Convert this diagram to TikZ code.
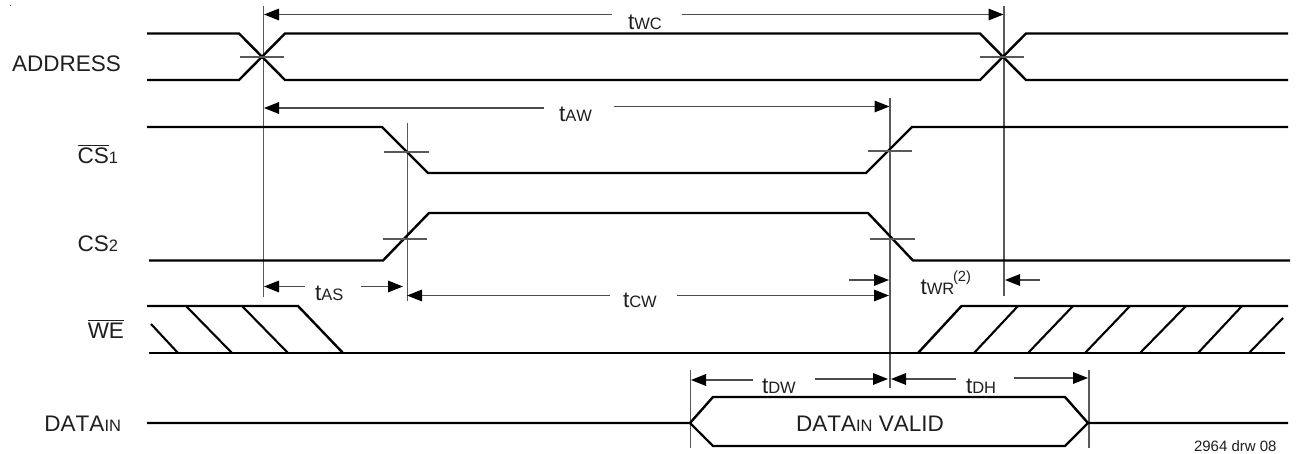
\documentclass[tikz,border=0pt]{standalone}
\usepackage{fontspec}
\setmainfont[Kerning=Off]{Liberation Sans}
\usetikzlibrary{arrows.meta}
\newcommand{\bigtxt}{\fontsize{22.5}{24}\selectfont}
\newcommand{\smtxt}[1]{{\fontsize{16.5}{18}\selectfont #1}}
\newcommand{\lineoverbar}[1]{\vbox{\hrule height 1.4pt \kern 1.6pt \hbox{#1}}}
\tikzset{
  x=1pt,y=-1pt,
  signal/.style={line width=2.4pt,black,line join=miter},
  hatchline/.style={line width=2.1pt,black},
  guide/.style={line width=1.8pt,black!65},
  dim/.style={line width=1.5pt,black!70},
  dimarrow/.style={dim,-{Triangle[length=15pt,width=11.5pt,black]}},
  lab/.style={inner sep=0pt,outer sep=0pt,font=\bigtxt,text=black!88},
  tlab/.style={lab,anchor=base west},
  sig/.style={lab,anchor=base east},
}
\begin{document}
\begin{tikzpicture}
\useasboundingbox (0,0) rectangle (1296,454);
\fill[white] (0,0) rectangle (1296,454);
\fill[black!60] (9.5,5.5) rectangle (11,6.5);
% Vertical guides
\draw[guide] (263.5,6) -- (263.5,297);
\draw[guide] (1004,6) -- (1004,296);
\draw[guide] (407.5,123) -- (407.5,301);
\draw[guide] (890,98) -- (890,388);
\draw[guide] (690.5,370) -- (690.5,448);
\draw[guide] (1089,370) -- (1089,448);
% ADDRESS
\draw[signal] (147,33.5) -- (239,33.5) -- (285,80) -- (980,80) -- (1026,33.5) -- (1288,33.5);
\draw[signal] (147,80) -- (239,80) -- (285,33.5) -- (980,33.5) -- (1026,80) -- (1288,80);
\draw[guide] (240,57) -- (284,57);
\draw[guide] (980,57) -- (1024,57);
% CS1
\draw[signal] (147,127) -- (382,127) -- (428,173) -- (866,173) -- (912,127) -- (1288,127);
\draw[guide] (384,152) -- (429,152);
\draw[guide] (868,151) -- (912,151);
% CS2
\draw[signal] (149,260.5) -- (383,260.5) -- (429,213) -- (868,213) -- (913,260.5) -- (1290,260.5);
\draw[guide] (383,239) -- (427,239);
\draw[guide] (870,239) -- (915,239);
% WE
\draw[signal] (147,306) -- (298,306) -- (343,353);
\draw[signal] (149,353) -- (1285,353);
\draw[signal] (918,353) -- (961.5,306) -- (1288,306);
\draw[hatchline] (151,324) -- (178,353);
\draw[hatchline] (186,306) -- (232,353);
\draw[hatchline] (242,306) -- (288,353);
\foreach \a/\b in {974/1018,1028/1073,1085/1130,1140/1186,1198/1242}
  \draw[hatchline] (\a,353) -- (\b,306);
\draw[hatchline] (1249,353) -- (1283,318);
% DATA
\draw[signal] (147,423) -- (690,423) -- (713,397) -- (1065,397) -- (1088,423) -- (1288,423);
\draw[signal] (690,423) -- (713,446) -- (1065,446) -- (1088,423);
% tWC
\draw[dimarrow] (612,14.5) -- (264,14.5);
\draw[dimarrow] (682,14.5) -- (1003.5,14.5);
% tAW
\draw[dimarrow] (544,108) -- (264,108);
\draw[dimarrow] (614,106.5) -- (889.5,106.5);
% tAS
\draw[dimarrow] (305,286.5) -- (264,286.5);
\draw[dimarrow] (361,286.5) -- (403,286.5);
% tCW
\draw[dimarrow] (610,295.5) -- (407,295.5);
\draw[dimarrow] (677,295.5) -- (889,295.5);
% tWR
\draw[dimarrow] (849,280) -- (889,280);
\draw[dimarrow] (1040,280) -- (1005,280);
% tDW
\draw[dimarrow] (753,380) -- (691,380);
\draw[dimarrow] (815,379) -- (888,379);
% tDH
\draw[dimarrow] (956,379) -- (891,379);
\draw[dimarrow] (1014,378) -- (1088,378);
% Signal names
\node[sig] (addr) at (121,72) {ADDRESS};
\node[sig] (cs1)  at (118,163.5) {\lineoverbar{CS}\smtxt{1}};
\node[sig] (cs2)  at (118,252) {CS\smtxt{2}};
\node[sig] (we)   at (124,338) {\lineoverbar{WE}};
\node[sig] (din)  at (121,431.5) {DATA\smtxt{IN}};
% Timing labels
\node[tlab] (twc) at (628,30) {t\smtxt{WC}};
\node[tlab] (taw) at (559,121.5) {t\smtxt{AW}};
\node[tlab] (tas) at (315,300.5) {t\smtxt{AS}};
\node[tlab] (tcw) at (623,308) {t\smtxt{CW}};
\node[tlab] (twr) at (920.5,295) {t\smtxt{WR}};
\node[tlab,font=\fontsize{14.7}{16}\selectfont] (twrn) at (953,282) {(2)};
\node[tlab] (tdw) at (762,393) {t\smtxt{DW}};
\node[tlab] (tdh) at (966,393) {t\smtxt{DH}};
\node[tlab] (dv) at (796,431.5) {DATA\smtxt{IN} VALID};
\node[tlab,font=\fontsize{15}{16}\selectfont] (drw) at (1194,451.7) {2964 drw 08};
\end{tikzpicture}
\end{document}
